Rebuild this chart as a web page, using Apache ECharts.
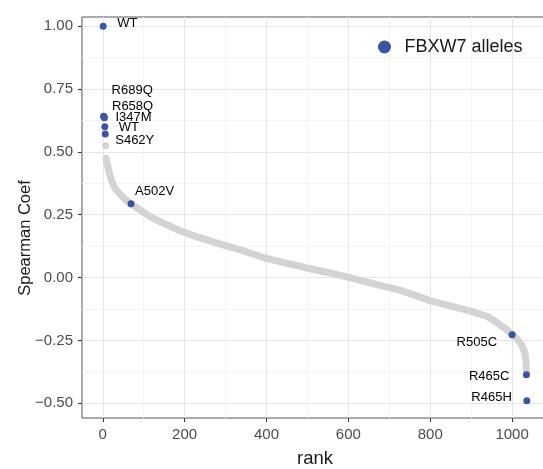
<!DOCTYPE html>
<html>
<head>
<meta charset="utf-8">
<script src="https://cdn.jsdelivr.net/npm/echarts@6/dist/echarts.min.js"></script>
<style>
  html, body { margin: 0; padding: 0; background: #ffffff; }
  #chart { width: 543px; height: 469px; }
</style>
</head>
<body>
<div id="chart"></div>
<script>
// Axis ticks
const xTicks = [0, 200, 400, 600, 800, 1000];
const xTickLabels = ['0', '200', '400', '600', '800', '1000'];
const xMinorTicks = [100, 300, 500, 700, 900];
const yTicks = [-0.5, -0.25, 0, 0.25, 0.5, 0.75, 1.0];
const yTickLabels = ['\u22120.50', '\u22120.25', '0.00', '0.25', '0.50', '0.75', '1.00'];
const yMinorTicks = [-0.375, -0.125, 0.125, 0.375, 0.625, 0.875];

// Ranked Spearman coefficients of all other profiles (grey band)
const bgRanks = [8, 11, 14, 17, 22, 28, 35, 43, 55, 69, 90, 108, 130, 150, 190, 230, 270, 310, 340,
  400, 440, 480, 500, 550, 604, 650, 700, 726, 775, 800, 860, 900, 940, 962, 985, 1000,
  1015, 1023, 1030, 1033, 1035];
const bgValues = [0.475, 0.452, 0.43, 0.41, 0.385, 0.36, 0.345, 0.33, 0.31, 0.293, 0.27, 0.25, 0.23,
  0.215, 0.185, 0.162, 0.142, 0.122, 0.108, 0.076, 0.06, 0.046, 0.037, 0.02, 0.0, -0.02, -0.04,
  -0.05, -0.078, -0.092, -0.118, -0.135, -0.155, -0.178, -0.205, -0.226, -0.25, -0.267, -0.295,
  -0.314, -0.37];
// Separate top grey point
const bgSingleRanks = [7];
const bgSingleValues = [0.525];

// FBXW7 alleles
const alleleNames = ['WT', 'R689Q', 'R658Q', 'I347M', 'WT', 'S462Y', 'A502V', 'R505C', 'R465C', 'R465H'];
const alleleRanks = [1, 2, 3, 4, 5, 6, 69, 1000, 1035, 1036];
const alleleValues = [1.0, 0.642, 0.639, 0.636, 0.6, 0.571, 0.294, -0.228, -0.387, -0.49];

// Label placement for each allele: text alignment and pixel offset from the dot
const labelPlacement = [
  { align: 'left', dx: 14, dy: -3 },
  { align: 'left', dx: 8, dy: -26 },
  { align: 'left', dx: 8, dy: -11 },
  { align: 'left', dx: 11, dy: 0 },
  { align: 'left', dx: 14, dy: 1 },
  { align: 'left', dx: 10, dy: 6 },
  { align: 'left', dx: 4, dy: -12 },
  { align: 'right', dx: -15, dy: 8 },
  { align: 'right', dx: -17, dy: 2 },
  { align: 'right', dx: -15, dy: -3 }
];

const FONT = '"Liberation Sans", Arial, Helvetica, sans-serif';
const BLUE = '#3b54a4';
const GREY = '#d3d3d3';
const X_MIN = -50.75, X_MAX = 1087.75;
const Y_MIN = -0.559, Y_MAX = 1.037;

const bgData = bgRanks.map((r, i) => [r, bgValues[i]]);
const bgSingleData = bgSingleRanks.map((r, i) => [r, bgSingleValues[i]]);
const alleleData = alleleRanks.map((r, i) => ({
  value: [r, alleleValues[i]],
  label: {
    show: true,
    position: 'inside',
    formatter: alleleNames[i],
    align: labelPlacement[i].align,
    verticalAlign: 'middle',
    offset: [labelPlacement[i].dx, labelPlacement[i].dy],
    fontFamily: FONT,
    fontSize: 13,
    color: '#000000'
  }
}));

const tickText = (ticks, labels) => v => {
  const k = ticks.findIndex(t => Math.abs(t - v) < 1e-9);
  return k >= 0 ? labels[k] : '';
};

// Invisible companion axis that only draws the minor grid lines
const minorAxis = (min, max, vals, pos) => ({
  gridIndex: 0, type: 'value', min: min, max: max, position: pos,
  axisLine: { show: false }, axisLabel: { show: false },
  axisTick: { show: false, customValues: vals },
  splitLine: { show: true, lineStyle: { color: '#f3f3f3', width: 1 } }
});

const chart = echarts.init(document.getElementById('chart'), null, { renderer: 'canvas' });
chart.setOption({
  animation: false,
  backgroundColor: '#ffffff',
  grid: {
    left: 82, right: -5, top: 17, bottom: 51,
    outerBoundsMode: 'none', containLabel: false,
    show: true, borderColor: '#555555', borderWidth: 1, backgroundColor: 'transparent'
  },
  legend: {
    data: ['FBXW7 alleles'],
    left: 373, top: 33,
    icon: 'circle', itemWidth: 30, itemHeight: 13,
    itemStyle: { opacity: 1 },
    textStyle: { fontFamily: FONT, fontSize: 18, color: '#1a1a1a' }
  },
  xAxis: [
    minorAxis(X_MIN, X_MAX, xMinorTicks, 'bottom'),
    {
      gridIndex: 0, type: 'value', min: X_MIN, max: X_MAX, position: 'bottom',
      name: 'rank', nameLocation: 'middle', nameGap: 31, nameMoveOverlap: false,
      nameTextStyle: { fontFamily: FONT, fontSize: 18.5, color: '#1a1a1a' },
      axisLine: { show: false, onZero: false },
      axisTick: { show: true, length: 4, customValues: xTicks, lineStyle: { color: '#333333' } },
      axisLabel: {
        customValues: xTicks, margin: 9, fontFamily: FONT, fontSize: 15, color: '#4d4d4d',
        formatter: tickText(xTicks, xTickLabels)
      },
      splitLine: { show: true, lineStyle: { color: '#e6e6e6', width: 1 } }
    }
  ],
  yAxis: [
    minorAxis(Y_MIN, Y_MAX, yMinorTicks, 'left'),
    {
      gridIndex: 0, type: 'value', min: Y_MIN, max: Y_MAX, position: 'left',
      name: 'Spearman Coef', nameLocation: 'middle', nameGap: 48, nameMoveOverlap: false,
      nameTextStyle: { fontFamily: FONT, fontSize: 16.5, color: '#1a1a1a', padding: [0, 41, 0, 0] },
      axisLine: { show: false, onZero: false },
      axisTick: { show: true, length: 4, customValues: yTicks, lineStyle: { color: '#333333' } },
      axisLabel: {
        customValues: yTicks, margin: 9, fontFamily: FONT, fontSize: 15, color: '#4d4d4d',
        formatter: tickText(yTicks, yTickLabels)
      },
      splitLine: { show: true, lineStyle: { color: '#e6e6e6', width: 1 } }
    }
  ],
  series: [
    {
      name: 'other', type: 'line', xAxisIndex: 1, yAxisIndex: 1,
      data: bgData, showSymbol: false, smooth: false, silent: true,
      lineStyle: { color: GREY, width: 7, cap: 'round', join: 'round', opacity: 1 },
      z: 2
    },
    {
      name: 'other single', type: 'scatter', xAxisIndex: 1, yAxisIndex: 1,
      data: bgSingleData, symbol: 'circle', symbolSize: 7, silent: true,
      itemStyle: { color: GREY, opacity: 1 }, z: 2
    },
    {
      name: 'FBXW7 alleles', type: 'scatter', xAxisIndex: 1, yAxisIndex: 1,
      data: alleleData, symbol: 'circle', symbolSize: 7,
      itemStyle: { color: BLUE, opacity: 1 }, z: 3
    }
  ]
});
</script>
</body>
</html>
